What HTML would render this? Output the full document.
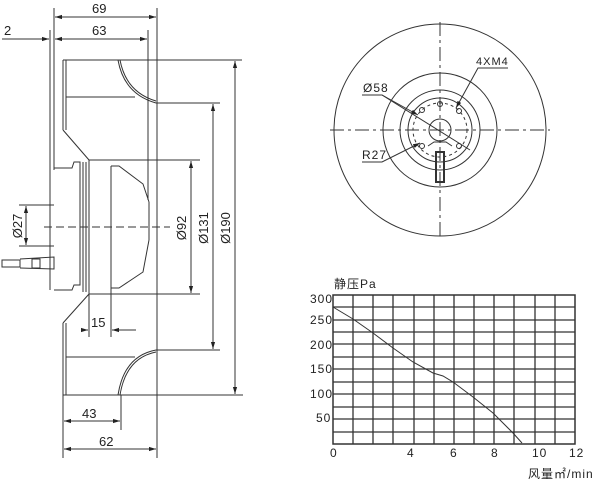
<!DOCTYPE html>
<html><head><meta charset="utf-8"><style>body{margin:0;background:#fff}svg{display:block}text{font-family:"Liberation Sans","Noto Sans CJK SC",sans-serif;fill:#222}</style></head><body>
<svg width="600" height="481" viewBox="0 0 600 481" xmlns="http://www.w3.org/2000/svg">
<defs><marker id="a" viewBox="0 0 10 10" refX="10" refY="5" markerWidth="7" markerHeight="7" orient="auto-start-reverse"><path d="M0,2 L10,5 L0,8 z" fill="#222"/></marker></defs>
<g stroke="#333" stroke-width="1" fill="none">
<line x1="54" y1="8" x2="54" y2="170"/><line x1="157" y1="8" x2="157" y2="458"/><line x1="148" y1="30" x2="148" y2="200"/><line x1="50" y1="30" x2="50" y2="290"/>
<line x1="55" y1="17" x2="156" y2="17" marker-start="url(#a)" marker-end="url(#a)"/>
<line x1="55" y1="39" x2="147" y2="39" marker-start="url(#a)" marker-end="url(#a)"/>
<line x1="2" y1="39" x2="49" y2="39" marker-end="url(#a)"/>
<line x1="63" y1="60" x2="242" y2="60"/><line x1="63" y1="60" x2="63" y2="130"/><line x1="66" y1="60" x2="66" y2="130"/>
<line x1="66" y1="97" x2="135" y2="97"/>
<path d="M118,60 Q124,94 156,103"/><path d="M120,60 Q126,92 156,101"/>
<line x1="156" y1="103" x2="220" y2="103"/>
<line x1="63" y1="130" x2="89" y2="160"/><line x1="89" y1="160" x2="200" y2="160"/>
<line x1="63" y1="395" x2="243" y2="395"/><line x1="63" y1="323" x2="63" y2="458"/><line x1="66" y1="323" x2="66" y2="395"/>
<line x1="66" y1="357" x2="135" y2="357"/>
<path d="M156,350 Q124,356 118,395"/><path d="M156,352 Q126,358 120,395"/>
<line x1="156" y1="350" x2="220" y2="350"/>
<line x1="63" y1="323" x2="89" y2="294"/><line x1="89" y1="294" x2="200" y2="294"/>
<path d="M54,168 L72,168 L74,162 L80,162 L80,285 L74,285 L72,290 L54,290"/>
<line x1="83" y1="162" x2="83" y2="292"/><line x1="86" y1="162" x2="86" y2="292"/><line x1="89" y1="160" x2="89" y2="337"/>
<line x1="111" y1="166" x2="111" y2="337"/>
<path d="M111,166 L119,166 L143,184 L149,202"/><path d="M111,288 L119,288 L143,272 L149,240"/>
<line x1="149" y1="202" x2="149" y2="240"/>
<line x1="19" y1="205" x2="54" y2="205"/><line x1="19" y1="246" x2="54" y2="246"/>
<line x1="26" y1="206" x2="26" y2="245" marker-start="url(#a)" marker-end="url(#a)"/>
<line x1="44" y1="227" x2="170" y2="227" stroke-dasharray="8,4"/>
<rect x="2" y="260" width="18" height="7"/><path d="M20,259 L54,257 L54,269 L20,268"/><rect x="32" y="259" width="8" height="9"/>
<line x1="191" y1="161" x2="191" y2="293" marker-start="url(#a)" marker-end="url(#a)"/>
<line x1="213" y1="104" x2="213" y2="349" marker-start="url(#a)" marker-end="url(#a)"/>
<line x1="235" y1="61" x2="235" y2="394" marker-start="url(#a)" marker-end="url(#a)"/>
<line x1="82" y1="330" x2="88" y2="330" marker-end="url(#a)"/><line x1="112" y1="330" x2="136" y2="330" marker-start="url(#a)"/>
<line x1="121" y1="395" x2="121" y2="430"/>
<line x1="64" y1="421" x2="120" y2="421" marker-start="url(#a)" marker-end="url(#a)"/>
<line x1="64" y1="449" x2="156" y2="449" marker-start="url(#a)" marker-end="url(#a)"/>
<circle cx="440" cy="130" r="106"/><circle cx="440" cy="130" r="57"/><circle cx="440" cy="130" r="40"/><circle cx="440" cy="130" r="32"/>
<circle cx="440" cy="130" r="27" stroke-dasharray="3,3"/><circle cx="440" cy="130" r="11"/>
<line x1="330" y1="130" x2="550" y2="130" stroke-dasharray="14,4,3,4"/><line x1="440" y1="22" x2="440" y2="240" stroke-dasharray="14,4,3,4"/>
<circle cx="422" cy="110" r="2.5"/><circle cx="459" cy="111" r="2.5"/><circle cx="422" cy="146" r="2.5"/><circle cx="459" cy="146" r="2.5"/><circle cx="440" cy="104" r="2.5"/>
<rect x="436" y="152" width="8" height="30" stroke-width="2"/>
<path d="M428,146 L434,142 L446,142 L452,146"/>
<path d="M362,95 L382,95 L470,150" /><line x1="382" y1="95" x2="418" y2="115" marker-end="url(#a)"/>
<path d="M508,68 L478,68 L456,108" marker-end="url(#a)"/>
<path d="M362,162 L382,162 L420,143" marker-end="url(#a)"/>
</g>
<g font-size="13">
<text x="92" y="13">69</text><text x="92" y="35">63</text><text x="4" y="35">2</text>
<text x="91" y="327">15</text><text x="82" y="418">43</text><text x="99" y="446">62</text>
<text transform="translate(22,226) rotate(-90)" text-anchor="middle">Ø27</text>
<text transform="translate(186,228) rotate(-90)" text-anchor="middle">Ø92</text>
<text transform="translate(208,228) rotate(-90)" text-anchor="middle">Ø131</text>
<text transform="translate(230,228) rotate(-90)" text-anchor="middle">Ø190</text>
</g>
<g font-size="11" letter-spacing="1"><text x="363" y="92" font-size="12">Ø58</text><text x="476" y="65">4XM4</text><text x="362" y="159" font-size="12">R27</text></g>
<g stroke="#333" fill="none">
<rect x="333" y="295" width="242" height="149" stroke-width="1.5"/>
<g stroke-width="1.3">
<path d="M353,295V444M373,295V444M393,295V444M414,295V444M434,295V444M454,295V444M474,295V444M494,295V444M514,295V444M535,295V444M555,295V444"/>
<path d="M333,307H575M333,320H575M333,332H575M333,344H575M333,357H575M333,369H575M333,382H575M333,394H575M333,407H575M333,419H575M333,432H575"/>
</g>
<polyline points="333,307 353,319 373,333 393,348 413,362 433,373 443,376 453,382 473,397 493,413 513,433 522,443" stroke-width="1"/>
</g>
<g font-size="12" letter-spacing="1">
<text x="310" y="303">300</text><text x="310" y="324">250</text><text x="310" y="349">200</text><text x="310" y="373">150</text><text x="310" y="398">100</text><text x="316" y="422">50</text>
<text x="330" y="457">0</text><text x="407" y="457">4</text><text x="450" y="457">6</text><text x="491" y="457">8</text><text x="532" y="457">10</text><text x="569" y="457">12</text>
<text x="334" y="288">静压Pa</text><text x="528" y="478">风量㎡/min</text>
</g>
</svg>
</body></html>
